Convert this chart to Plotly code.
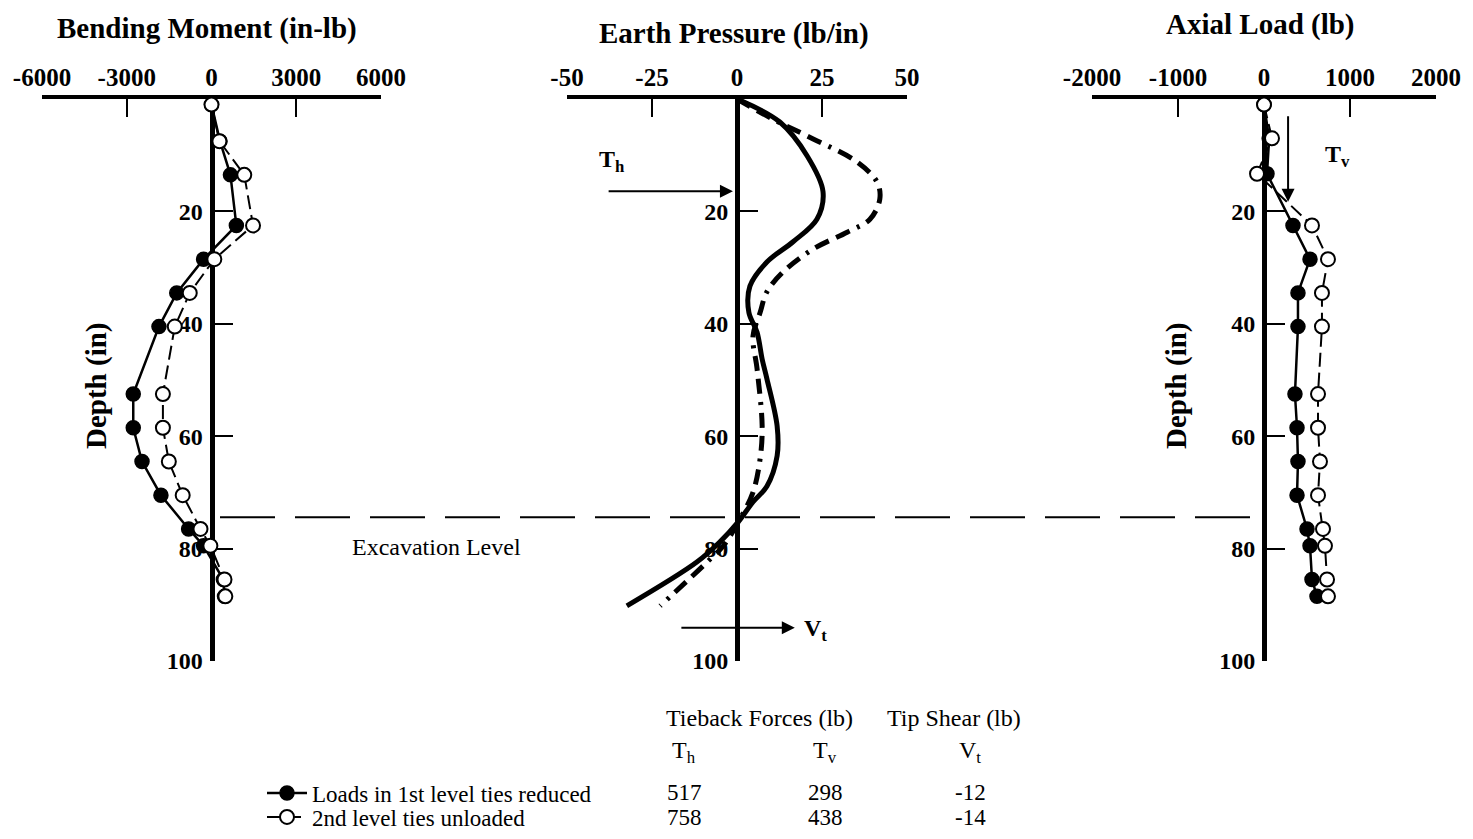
import plotly.graph_objects as go

# page is rendered with an 8px body margin; size the figure to fit the viewport
PAGE_W, PAGE_H, OFF = 1473, 839, 8
W, H = PAGE_W - 2 * OFF, PAGE_H - 2 * OFF

# ---------------- data ----------------
depth_pts = [1, 7.5, 13.5, 22.5, 28.5, 34.5, 40.5, 52.5, 58.5, 64.5, 70.5, 76.5, 79.5, 85.5, 88.5]
moment_reduced = [0, 300, 670, 880, -280, -1230, -1860, -2770, -2770, -2460, -1790, -810, -280, 420, 460]
moment_unloaded = [0, 280, 1160, 1470, 100, -770, -1300, -1720, -1720, -1510, -1020, -390, -40, 460, 490]

axial_depth = [1, 7, 13.3, 22.5, 28.5, 34.5, 40.5, 52.5, 58.5, 64.5, 70.5, 76.5, 79.5, 85.5, 88.5]
axial_reduced = [0, 60, 35, 337, 535, 395, 395, 360, 384, 395, 384, 500, 535, 558, 616]
axial_unloaded = [0, 93, -81, 558, 744, 674, 674, 628, 628, 651, 628, 686, 709, 733, 744]

ep_depth_reduced = [0, 4.1, 10.1, 16.5, 21.4, 25.4, 29, 33.3, 38, 41.5, 46.3, 49.8, 58.2, 63.5, 68.9, 71.7, 75.3, 78.8, 82.4, 90.2]
ep_reduced = [0, 12.6, 20.6, 25.3, 23.5, 16.5, 8.8, 3.8, 3.5, 5.9, 7.4, 8.8, 11.8, 11.8, 8.8, 4.7, 0.3, -5, -11.8, -32.4]
ep_depth_unloaded = [0, 3.6, 7.1, 11.2, 14.8, 17.8, 21.4, 23.7, 26.7, 30.8, 34.3, 38, 42.2, 48, 58.2, 64, 70, 74.7, 79.5, 82.4, 90.2]
ep_unloaded = [0, 10.6, 22.4, 35.3, 41.2, 42, 39.1, 32.4, 22.4, 13.5, 8.8, 6.8, 4.7, 5.9, 7.4, 6.8, 4.7, 0.9, -4, -8.8, -22.6]

excavation_depth = 74.4
th_depth, vt_depth = 16.4, 94.1
tv_x, tv_top, tv_bottom = 280, 2.8, 18.3

moment_ticks = [-6000, -3000, 0, 3000, 6000]
pressure_ticks = [-50, -25, 0, 25, 50]
axial_ticks = [-2000, -1000, 0, 1000, 2000]
depth_ticks = [20, 40, 60, 80, 100]

series_names = ["Loads in 1st level ties reduced", "2nd level ties unloaded"]
table_rows = [["517", "298", "-12"], ["758", "438", "-14"]]

# ---------------- styling helpers ----------------
SERIF = "Liberation Serif"
px = lambda x: (x - OFF) / W
py = lambda y: 1 - (y - OFF) / H

fig = go.Figure()

filled_marker = dict(symbol="circle", size=14, color="black", line=dict(color="black", width=1.5))
open_marker = dict(symbol="circle", size=14, color="white", line=dict(color="black", width=2))

# left panel
fig.add_trace(go.Scatter(x=moment_reduced, y=depth_pts, mode="lines+markers", name=series_names[0],
                         line=dict(color="black", width=2.5), marker=filled_marker,
                         xaxis="x", yaxis="y", legend="legend", cliponaxis=False))
fig.add_trace(go.Scatter(x=moment_unloaded, y=depth_pts, mode="lines+markers", name=series_names[1],
                         line=dict(color="black", width=2, dash="14px,6px"), marker=open_marker,
                         xaxis="x", yaxis="y", legend="legend2", cliponaxis=False))
# middle panel
fig.add_trace(go.Scatter(x=ep_reduced, y=ep_depth_reduced, mode="lines", line=dict(color="black", width=5, shape="spline"),
                         xaxis="x2", yaxis="y2", showlegend=False, cliponaxis=False))
fig.add_trace(go.Scatter(x=ep_unloaded, y=ep_depth_unloaded, mode="lines",
                         line=dict(color="black", width=5, shape="spline", dash="15px,8px,15px,8px,3px,8px"),
                         xaxis="x2", yaxis="y2", showlegend=False, cliponaxis=False))
# right panel
fig.add_trace(go.Scatter(x=axial_reduced, y=axial_depth, mode="lines+markers", line=dict(color="black", width=2.5),
                         marker=filled_marker, xaxis="x3", yaxis="y3", showlegend=False, cliponaxis=False))
fig.add_trace(go.Scatter(x=axial_unloaded, y=axial_depth, mode="lines+markers",
                         line=dict(color="black", width=2, dash="14px,6px"), marker=open_marker,
                         xaxis="x3", yaxis="y3", showlegend=False, cliponaxis=False))

tickfont_x = dict(family=SERIF, size=25, color="black", weight="bold")
tickfont_y = dict(family=SERIF, size=24, color="black", weight="bold")

def xax(domain, rng, ticks, anchor):
    return dict(domain=[px(domain[0]), px(domain[1])], range=rng, side="top", anchor=anchor,
                tickvals=ticks, ticktext=[str(t) for t in ticks], ticks="inside", ticklen=18,
                tickwidth=1.5, tickcolor="black", showline=True, linewidth=4, linecolor="black",
                showgrid=False, zeroline=False, tickfont=tickfont_x, layer="below traces",
                ticklabelstandoff=-1, fixedrange=True, automargin=False)

def yax(pos):
    return dict(domain=[py(661), py(99)], range=[100, 0], anchor="free", position=px(pos), side="left",
                tickvals=depth_ticks, ticks="inside", ticklen=18, tickwidth=1.5, tickcolor="black",
                showline=True, linewidth=5, linecolor="black", showgrid=False, zeroline=False,
                tickfont=tickfont_y, layer="below traces", ticklabelstandoff=2, fixedrange=True,
                automargin=False)

legend_common = dict(x=px(262), xanchor="left", yanchor="middle", bgcolor="rgba(0,0,0,0)",
                     font=dict(family=SERIF, size=23, color="black"), borderwidth=0, itemwidth=40)

fig.update_layout(
    width=W, height=H, autosize=False,
    margin=dict(l=0, r=0, t=0, b=0, autoexpand=False),
    paper_bgcolor="white", plot_bgcolor="white",
    xaxis=xax((42, 381), [-6000, 6000], moment_ticks, "y"),
    yaxis=yax(211.5),
    xaxis2=xax((567, 907), [-50, 50], pressure_ticks, "y2"),
    yaxis2=yax(737),
    xaxis3=xax((1092, 1436), [-2000, 2000], axial_ticks, "y3"),
    yaxis3=yax(1264),
    showlegend=True,
    legend=dict(y=py(793), **legend_common),
    legend2=dict(y=py(817), **legend_common),
)

# excavation level line
fig.add_shape(type="line", xref="paper", yref="y", x0=px(220), x1=px(1256), y0=excavation_depth, y1=excavation_depth,
              line=dict(color="black", width=2, dash="55px,20px"))

ann = []

def text(t, x, y, font, xanchor="center", angle=0):
    ann.append(dict(text=t, x=px(x), y=py(y), xref="paper", yref="paper", showarrow=False,
                    xanchor=xanchor, yanchor="middle", textangle=angle, font=font))

title_font = dict(family=SERIF, size=29, color="black", weight="bold")
text("Bending Moment (in-lb)", 207, 29, title_font)
text("Earth Pressure (lb/in)", 734, 33, title_font)
text("Axial Load (lb)", 1260, 24, title_font)
text("Depth (in)", 96, 386, title_font, angle=-90)
text("Depth (in)", 1176, 386, title_font, angle=-90)
text("Excavation Level", 436, 547, dict(family=SERIF, size=24, color="black"))

# arrows
arrow = dict(showarrow=True, arrowhead=2, arrowsize=1.3, arrowwidth=2, arrowcolor="black", text="")
ann.append(dict(x=-1.2, y=th_depth, ax=-38.2, ay=th_depth, xref="x2", yref="y2", axref="x2", ayref="y2", **arrow))
ann.append(dict(x=17, y=vt_depth, ax=-16.8, ay=vt_depth, xref="x2", yref="y2", axref="x2", ayref="y2", **arrow))
ann.append(dict(x=tv_x, y=tv_bottom, ax=tv_x, ay=tv_top, xref="x3", yref="y3", axref="x3", ayref="y3", **arrow))

lab_font = dict(family=SERIF, size=24, color="black", weight="bold")
text("T<sub>h</sub>", 612, 161, lab_font)
text("V<sub>t</sub>", 815, 630, lab_font)
text("T<sub>v</sub>", 1337, 156, lab_font)

# table
tfont = dict(family=SERIF, size=24, color="black")
rfont = dict(family=SERIF, size=23, color="black")
text("Tieback Forces (lb)", 664, 718, tfont, xanchor="left")
text("Tip Shear (lb)", 885, 718, tfont, xanchor="left")
col_x = [684, 825, 970]
for cx, h in zip(col_x, ["T<sub>h</sub>", "T<sub>v</sub>", "V<sub>t</sub>"]):
    text(h, cx, 752, tfont)
for ry, row in zip([792, 817], table_rows):
    for cx, v in zip(col_x, row):
        text(v, cx, ry, rfont)

fig.update_layout(annotations=ann)
fig.write_html("out.html")
